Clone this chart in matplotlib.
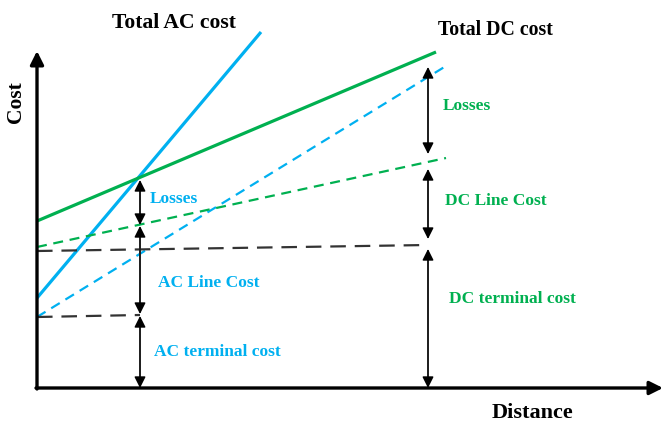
import matplotlib
matplotlib.use("Agg")
import matplotlib.pyplot as plt

# Conceptual break-even diagram (units: arbitrary distance / cost)
ac_total_x = [0, 224]
ac_total_y = [90, 356]
dc_total_x = [0, 399]
dc_total_y = [167, 336]
ac_line_x = [0, 409]
ac_line_y = [71, 322]
dc_line_x = [0, 409]
dc_line_y = [141, 230]
ac_term_x = [0, 103]
ac_term_y = [71, 73]
dc_term_x = [0, 391]
dc_term_y = [137, 143]

# dimension arrows: (x, y_top, y_bottom)
ac_arrows = [(103, 208, 163), (103, 162, 74), (103, 72, 0)]
dc_arrows = [(391, 321, 234), (391, 219, 149), (391, 139, 0)]

BLUE = "#00B0F0"
GREEN = "#00B050"

plt.rcParams['font.family'] = ['Liberation Serif', 'DejaVu Serif']

fig = plt.figure(figsize=(6.63, 4.26), dpi=100)
ax = fig.add_axes([0, 0, 1, 1])
ax.set_xlim(-37, 626)
ax.set_ylim(-38, 388)
ax.axis('off')

# axes with arrows
ax.annotate('', xy=(0, 337), xytext=(0, -1),
            arrowprops=dict(arrowstyle='-|>', color='black', lw=2.4,
                            mutation_scale=20, shrinkA=0, shrinkB=0))
ax.annotate('', xy=(626, 0), xytext=(-1, 0),
            arrowprops=dict(arrowstyle='-|>', color='black', lw=2.4,
                            mutation_scale=20, shrinkA=0, shrinkB=0))

# lines
ax.plot(ac_total_x, ac_total_y, color=BLUE, lw=2.3, solid_capstyle='butt')
ax.plot(dc_total_x, dc_total_y, color=GREEN, lw=2.3, solid_capstyle='butt')
ax.plot(ac_line_x, ac_line_y, color=BLUE, lw=1.6, dashes=(4.5, 3))
ax.plot(dc_line_x, dc_line_y, color=GREEN, lw=1.6, dashes=(4.5, 3))
ax.plot(ac_term_x, ac_term_y, color='#333333', lw=1.6, dashes=(7, 4))
ax.plot(dc_term_x, dc_term_y, color='#333333', lw=1.6, dashes=(7, 4))

for x, yt, yb in ac_arrows + dc_arrows:
    ax.annotate('', xy=(x, yb), xytext=(x, yt),
                arrowprops=dict(arrowstyle='<|-|>', color='black', lw=1.0,
                                mutation_scale=17, shrinkA=0, shrinkB=0))
    ax.plot([x, x], [yb + 10, yt - 10], color='#6a6a6a', lw=1.4)

# labels
ax.text(137, 365, 'Total AC cost', ha='center', va='center', fontsize=15.6, fontweight='bold')
ax.text(458, 358, 'Total DC cost', ha='center', va='center', fontsize=14.3, fontweight='bold')
ax.text(-21, 286, 'Cost', ha='center', va='center', fontsize=15.5, fontweight='bold', rotation=90)
ax.text(495, -25, 'Distance', ha='center', va='center', fontsize=16, fontweight='bold')

fs = 12.5
ax.text(113, 189, 'Losses', ha='left', va='center', fontsize=fs, fontweight='bold', color=BLUE)
ax.text(121, 105, 'AC Line Cost', ha='left', va='center', fontsize=fs, fontweight='bold', color=BLUE)
ax.text(117, 36, 'AC terminal cost', ha='left', va='center', fontsize=fs, fontweight='bold', color=BLUE)
ax.text(406, 282, 'Losses', ha='left', va='center', fontsize=fs, fontweight='bold', color=GREEN)
ax.text(408, 187, 'DC Line Cost', ha='left', va='center', fontsize=fs, fontweight='bold', color=GREEN)
ax.text(412, 89, 'DC terminal cost', ha='left', va='center', fontsize=fs, fontweight='bold', color=GREEN)

fig.savefig('out.png', dpi=100)
